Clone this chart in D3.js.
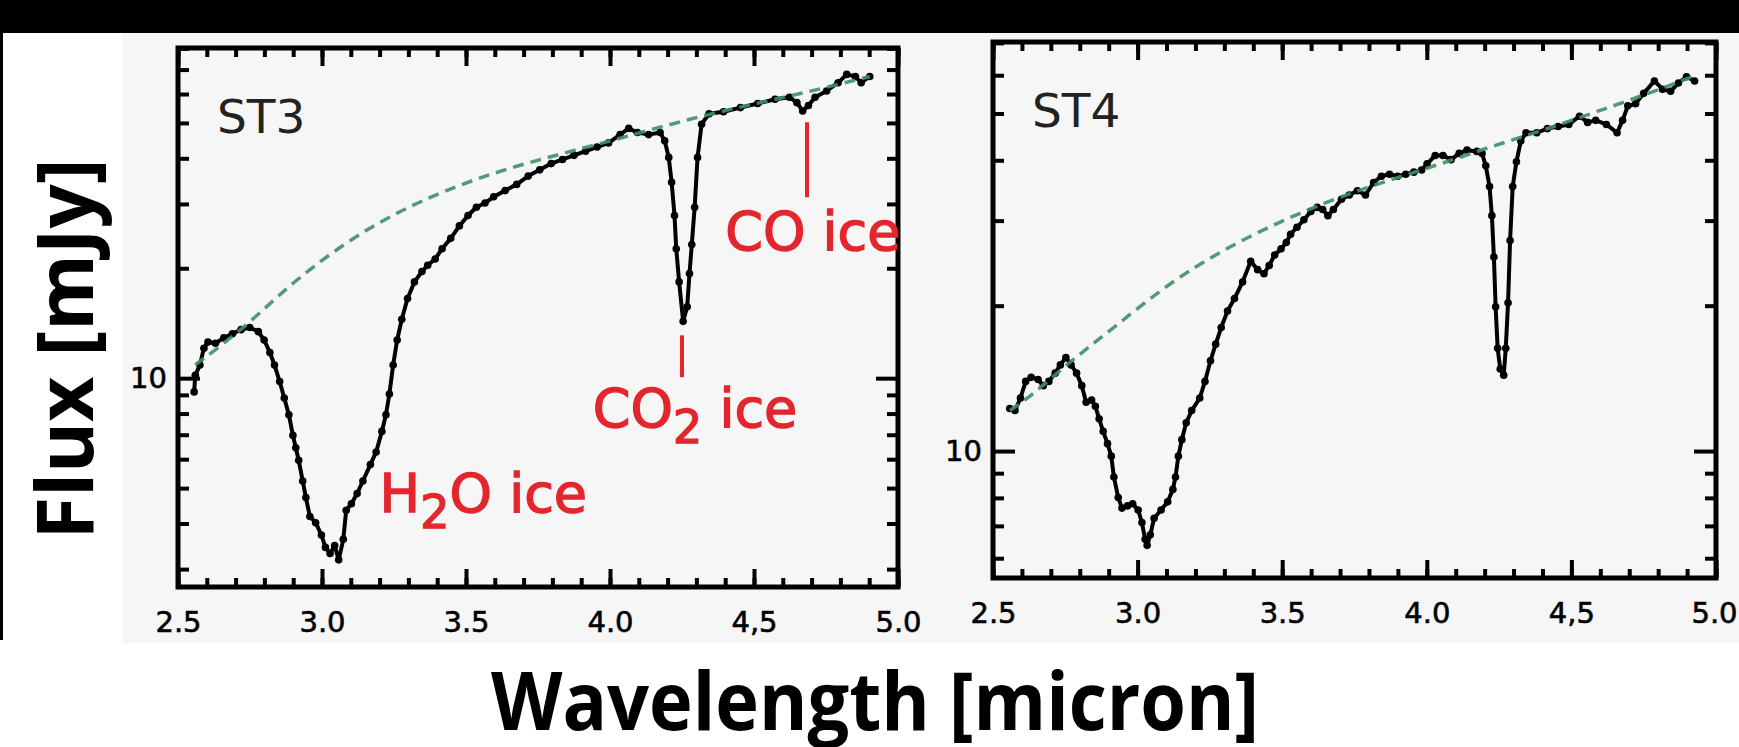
<!DOCTYPE html>
<html>
<head>
<meta charset="utf-8">
<title>ST3 / ST4 ice absorption spectra</title>
<script src="https://d3js.org/d3.v7.min.js"></script>
<style>
    html, body {
        margin: 0;
        padding: 0;
        background: #ffffff;
    }
    svg { display: block; }
</style>
</head>
<body>
<div id="chart"></div>
<script>
    // ST3 spectrum (wavelength in micron, flux in mJy)
    const st3Wave = [2.556, 2.560, 2.576, 2.590, 2.604, 2.630, 2.659, 2.689, 2.719, 2.749,
        2.779, 2.799, 2.819, 2.835, 2.853, 2.869, 2.885, 2.899, 2.909, 2.919,
        2.933, 2.944, 2.958, 2.978, 2.998, 3.012, 3.028, 3.044, 3.058, 3.074,
        3.084, 3.102, 3.122, 3.142, 3.168, 3.188, 3.208, 3.222, 3.234, 3.247,
        3.261, 3.277, 3.297, 3.321, 3.347, 3.367, 3.393, 3.417, 3.447, 3.477,
        3.507, 3.536, 3.566, 3.596, 3.636, 3.676, 3.716, 3.756, 3.796, 3.835,
        3.875, 3.915, 3.955, 3.995, 4.035, 4.065, 4.095, 4.134, 4.174, 4.190,
        4.204, 4.214, 4.224, 4.230, 4.240, 4.254, 4.268, 4.276, 4.284, 4.294,
        4.304, 4.318, 4.344, 4.394, 4.453, 4.513, 4.573, 4.623, 4.649, 4.669,
        4.689, 4.712, 4.752, 4.792, 4.822, 4.852, 4.872, 4.902];
    const st3Flux = [9.17, 10.18, 10.87, 12.07, 12.56, 12.46, 12.89, 13.23, 13.58, 13.76,
        13.41, 12.72, 11.76, 10.87, 9.79, 8.82, 7.94, 6.97, 6.45, 5.96,
        5.23, 4.71, 4.18, 4.02, 3.72, 3.44, 3.31, 3.48, 3.18, 3.62,
        4.35, 4.53, 4.83, 5.23, 5.80, 6.28, 7.15, 7.94, 9.05, 10.87,
        12.72, 14.50, 16.53, 18.35, 19.59, 20.38, 21.20, 22.62, 24.15, 26.12,
        27.90, 29.39, 30.17, 31.38, 32.63, 33.94, 35.76, 37.20, 38.69, 39.71,
        40.76, 41.84, 42.95, 44.09, 46.45, 48.31, 47.07, 46.45, 47.07, 44.67,
        40.23, 34.39, 27.90, 22.62, 18.35, 14.31, 15.69, 19.34, 23.22, 29.39,
        40.23, 49.60, 52.97, 53.65, 55.07, 56.53, 58.03, 58.80, 56.82, 53.92,
        55.80, 58.80, 61.16, 64.44, 67.90, 67.01, 64.44, 67.01];

    // ST3 continuum fit
    const st3ContWave = [2.560, 2.739, 2.879, 3.078, 3.277, 3.477, 3.676, 3.875, 4.075, 4.274, 4.473, 4.673, 4.902];
    const st3ContFlux = [10.87, 13.90, 17.80, 23.50, 29.00, 33.90, 38.20, 42.00, 46.30, 51.20, 55.80, 60.36, 67.01];

    // ST4 spectrum
    const st4Wave = [2.558, 2.576, 2.595, 2.613, 2.632, 2.656, 2.674, 2.693, 2.715, 2.733,
        2.752, 2.770, 2.789, 2.807, 2.822, 2.841, 2.854, 2.867, 2.881, 2.896,
        2.909, 2.918, 2.933, 2.946, 2.965, 2.983, 3.002, 3.015, 3.026, 3.033,
        3.044, 3.057, 3.081, 3.104, 3.122, 3.131, 3.141, 3.153, 3.168, 3.187,
        3.215, 3.233, 3.252, 3.270, 3.289, 3.311, 3.335, 3.363, 3.391, 3.415,
        3.437, 3.455, 3.474, 3.496, 3.514, 3.529, 3.551, 3.575, 3.599, 3.621,
        3.640, 3.658, 3.677, 3.705, 3.732, 3.760, 3.788, 3.816, 3.843, 3.871,
        3.899, 3.927, 3.955, 3.982, 4.001, 4.029, 4.056, 4.084, 4.112, 4.139,
        4.173, 4.191, 4.204, 4.217, 4.225, 4.232, 4.238, 4.245, 4.254, 4.266,
        4.273, 4.281, 4.288, 4.297, 4.310, 4.325, 4.343, 4.380, 4.417, 4.454,
        4.491, 4.528, 4.556, 4.584, 4.621, 4.658, 4.677, 4.695, 4.722, 4.750,
        4.787, 4.815, 4.843, 4.870, 4.898, 4.926];
    const st4Flux = [12.25, 12.13, 12.88, 13.94, 14.21, 14.07, 13.66, 13.94, 14.50, 15.08,
        15.62, 15.08, 14.50, 13.66, 12.62, 12.75, 12.38, 11.66, 10.99, 10.36,
        9.76, 8.84, 8.01, 7.62, 7.70, 7.78, 7.55, 7.11, 6.57, 6.38,
        6.71, 7.26, 7.55, 7.85, 8.33, 8.84, 9.76, 10.56, 11.44, 12.13,
        12.88, 13.94, 15.38, 16.65, 18.02, 19.50, 20.69, 22.39, 24.71, 23.75,
        23.29, 24.23, 25.46, 26.22, 27.02, 28.11, 29.07, 30.12, 31.33, 31.96,
        31.64, 30.72, 31.64, 33.23, 33.90, 34.58, 33.90, 35.98, 37.06, 37.43,
        37.06, 37.43, 37.80, 38.18, 39.33, 40.92, 40.92, 40.12, 41.33, 41.98,
        41.73, 41.33, 38.95, 35.28, 30.72, 25.21, 19.89, 16.32, 14.79, 14.36,
        16.32, 20.28, 27.29, 35.28, 39.72, 43.85, 45.61, 45.61, 46.52, 46.98,
        47.45, 49.36, 47.92, 48.39, 47.45, 45.61, 48.39, 51.86, 52.38, 55.04,
        58.39, 56.13, 55.57, 57.81, 59.57, 58.39];

    // ST4 continuum fit
    const st4ContWave = [2.558, 2.641, 2.752, 2.918, 3.104, 3.289, 3.474, 3.658, 3.843, 4.029, 4.214, 4.399, 4.584, 4.769, 4.935];
    const st4ContFlux = [12.13, 13.13, 15.08, 18.02, 22.17, 25.97, 29.53, 32.91, 35.98, 38.95, 42.56, 46.06, 50.35, 55.04, 60.16];

    // axis ticks
    const xMajorTicks = [2.5, 3.0, 3.5, 4.0, 4.5, 5.0];
    const xMajorLabels = ["2.5", "3.0", "3.5", "4.0", "4,5", "5.0"];
    const xMinorTicks = d3.range(26).map(i => +(2.5 + i * 0.1).toFixed(1));
    const yMajorTicks = [10];
    const yMinorTicks = [2, 3, 4, 5, 6, 7, 8, 9, 20, 30, 40, 50, 60, 70, 80, 90];

    // ice feature labels (ST3 only): main text, subscript, rest
    const iceLabelParts = [["H", "2", "O ice"], ["CO", "2", " ice"], ["CO", "", " ice"]];
    const iceLabelWave = [3.20, 3.94, 4.40];
    const iceLabelFlux = [4.30, 7.35, 22.4];
    // red marker lines near the features
    const iceMarkWave = [4.25, 4.684];
    const iceMarkLow = [10.06, 31.3];
    const iceMarkHigh = [13.1, 50.2];

    const width = 1739, height = 747;

    const svg = d3.select("#chart").append("svg")
        .attr("width", width)
        .attr("height", height);

    // page background pieces
    svg.append("rect").attr("x", 0).attr("y", 0).attr("width", width).attr("height", 33).attr("fill", "#000");
    svg.append("rect").attr("x", 0).attr("y", 33).attr("width", 3).attr("height", 607).attr("fill", "#000");
    svg.append("rect").attr("x", 122).attr("y", 33).attr("width", width - 122).attr("height", 610).attr("fill", "#f6f6f6");

    function drawPanel(p) {
        const g = svg.append("g");
        const x = d3.scaleLinear().domain([2.5, 5.0]).range([p.left, p.right]);
        const y = d3.scaleLog().domain(p.yDomain).range([p.bottom, p.top]);

        const styleTicks = sel => {
            sel.select(".domain").remove();
            sel.selectAll(".tick line").attr("stroke", "#000").attr("stroke-width", 4);
            sel.selectAll(".tick text")
                .attr("fill", "#000")
                .attr("stroke", "#000")
                .attr("stroke-width", 0.6)
                .style("font-family", "'DejaVu Sans', sans-serif")
                .style("font-size", "29px");
        };

        const yMinor = yMinorTicks.filter(v => v > p.yDomain[0] && v < p.yDomain[1]);

        // bottom
        g.append("g").attr("transform", `translate(0,${p.bottom})`)
            .call(d3.axisBottom(x).tickValues(xMinorTicks).tickSize(-9).tickFormat(""))
            .call(styleTicks);
        const bottomMajor = g.append("g").attr("transform", `translate(0,${p.bottom})`)
            .call(d3.axisBottom(x).tickValues(xMajorTicks).tickSize(-18).tickPadding(24)
                .tickFormat((d, i) => xMajorLabels[i]))
            .call(styleTicks);
        if (p.lastLabelShift) {
            bottomMajor.selectAll(".tick text").filter(d => d === 5.0).attr("dx", p.lastLabelShift);
        }
        // top
        g.append("g").attr("transform", `translate(0,${p.top})`)
            .call(d3.axisTop(x).tickValues(xMinorTicks).tickSize(-9).tickFormat(""))
            .call(styleTicks);
        g.append("g").attr("transform", `translate(0,${p.top})`)
            .call(d3.axisTop(x).tickValues(xMajorTicks).tickSize(-18).tickFormat(""))
            .call(styleTicks);
        // left
        g.append("g").attr("transform", `translate(${p.left},0)`)
            .call(d3.axisLeft(y).tickValues(yMinor).tickSize(-11).tickFormat(""))
            .call(styleTicks);
        g.append("g").attr("transform", `translate(${p.left},0)`)
            .call(d3.axisLeft(y).tickValues(yMajorTicks).tickSize(-22).tickPadding(11).tickFormat(d3.format("d")))
            .call(styleTicks);
        // right
        g.append("g").attr("transform", `translate(${p.right},0)`)
            .call(d3.axisRight(y).tickValues(yMinor).tickSize(-11).tickFormat(""))
            .call(styleTicks);
        g.append("g").attr("transform", `translate(${p.right},0)`)
            .call(d3.axisRight(y).tickValues(yMajorTicks).tickSize(-22).tickFormat(""))
            .call(styleTicks);

        // frame
        g.append("rect")
            .attr("x", p.left).attr("y", p.top)
            .attr("width", p.right - p.left).attr("height", p.bottom - p.top)
            .attr("fill", "none").attr("stroke", "#000").attr("stroke-width", 5);

        // spectrum
        const spec = d3.zip(p.wave, p.flux);
        const line = d3.line().x(d => x(d[0])).y(d => y(d[1]));
        g.append("path").datum(spec)
            .attr("d", line)
            .attr("fill", "none").attr("stroke", "#000").attr("stroke-width", 4)
            .attr("stroke-linejoin", "round");
        g.selectAll(".pt").data(spec).enter().append("circle")
            .attr("class", "pt")
            .attr("cx", d => x(d[0])).attr("cy", d => y(d[1]))
            .attr("r", 3.8).attr("fill", "#000");

        // continuum (smooth dashed fit)
        const cont = d3.zip(p.contWave, p.contFlux);
        g.append("path").datum(cont)
            .attr("d", d3.line().curve(d3.curveBasis).x(d => x(d[0])).y(d => y(d[1])))
            .attr("fill", "none").attr("stroke", "#3f9166").attr("stroke-width", 3.5)
            .attr("stroke-dasharray", "11,7").attr("opacity", 0.9);

        // panel name
        g.append("text")
            .attr("x", p.left + 39).attr("y", p.top + 85)
            .attr("fill", "#222")
            .style("font-family", "'DejaVu Sans', sans-serif")
            .style("font-size", "47px")
            .text(p.name);

        return {g, x, y};
    }

    const st3 = drawPanel({
        name: "ST3", left: 178, right: 898, top: 48, bottom: 587,
        yDomain: [2.68, 80.2],
        wave: st3Wave, flux: st3Flux, contWave: st3ContWave, contFlux: st3ContFlux
    });
    drawPanel({
        name: "ST4", left: 993, right: 1716, top: 42, bottom: 578,
        yDomain: [5.46, 70.3], lastLabelShift: -2,
        wave: st4Wave, flux: st4Flux, contWave: st4ContWave, contFlux: st4ContFlux
    });

    // ice annotations on ST3
    const red = "#e3262d";
    iceMarkWave.forEach((w, i) => {
        st3.g.append("line")
            .attr("x1", st3.x(w)).attr("x2", st3.x(w))
            .attr("y1", st3.y(iceMarkLow[i])).attr("y2", st3.y(iceMarkHigh[i]))
            .attr("stroke", red).attr("stroke-width", 4);
    });
    iceLabelParts.forEach((parts, i) => {
        const t = st3.g.append("text")
            .attr("x", st3.x(iceLabelWave[i])).attr("y", st3.y(iceLabelFlux[i]))
            .attr("fill", red)
            .attr("stroke", red)
            .attr("stroke-width", 1.4)
            .style("font-family", "'DejaVu Sans', sans-serif")
            .style("font-size", "54px");
        t.append("tspan").text(parts[0]);
        if (parts[1]) {
            t.append("tspan").attr("dy", 16).style("font-size", "46px").text(parts[1]);
            t.append("tspan").attr("dy", -16).text(parts[2]);
        } else {
            t.append("tspan").text(parts[2]);
        }
    });

    // axis titles
    svg.append("text")
        .attr("transform", "translate(93,349) rotate(-90)")
        .attr("text-anchor", "middle")
        .attr("textLength", 381).attr("lengthAdjust", "spacingAndGlyphs")
        .attr("fill", "#000")
        .style("font-family", "'Open Sans', sans-serif")
        .style("font-weight", "700")
        .style("font-size", "78px")
        .text("Flux  [mJy]");
    svg.append("text")
        .attr("x", 875).attr("y", 730)
        .attr("text-anchor", "middle")
        .attr("textLength", 768).attr("lengthAdjust", "spacingAndGlyphs")
        .attr("fill", "#000")
        .style("font-family", "'Open Sans', sans-serif")
        .style("font-weight", "700")
        .style("font-size", "80px")
        .text("Wavelength [micron]");
</script>
</body>
</html>
